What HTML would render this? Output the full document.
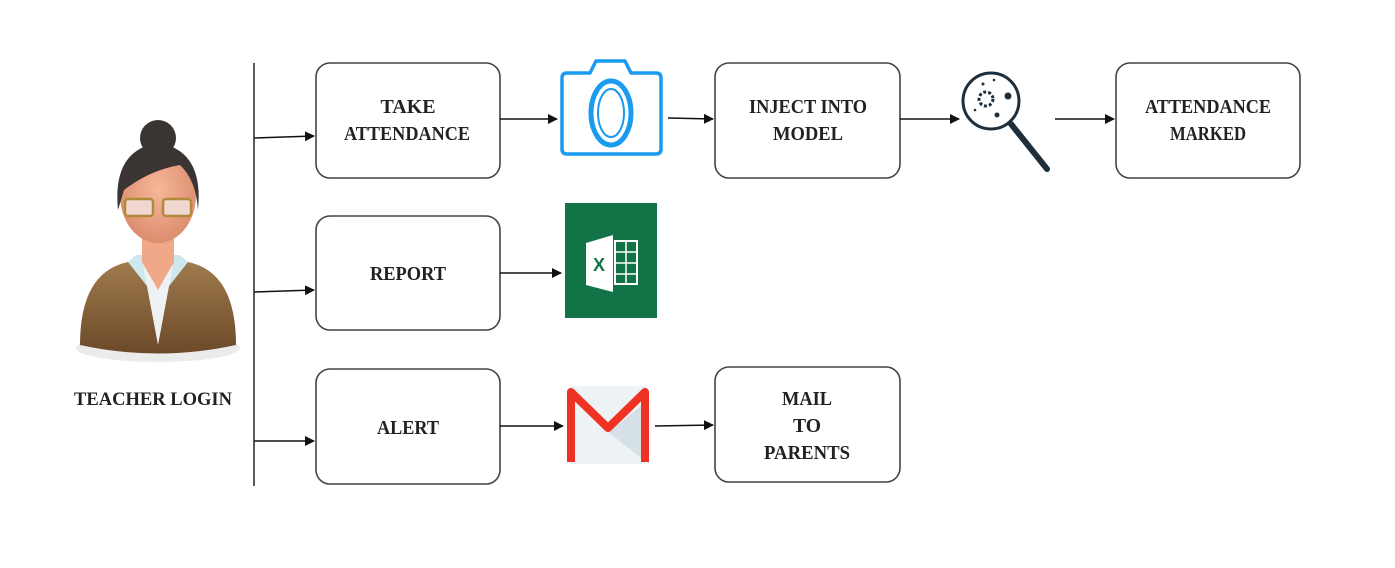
<!DOCTYPE html>
<html><head><style>html,body{margin:0;padding:0;background:#fff}</style></head><body>
<svg width="1395" height="563" viewBox="0 0 1395 563" xmlns="http://www.w3.org/2000/svg" font-family="Liberation Serif, serif" font-weight="bold" font-size="20" fill="#222">
<defs>
<marker id="a" markerWidth="10" markerHeight="10" refX="9" refY="5" orient="auto" markerUnits="userSpaceOnUse"><path d="M0,0 L10,5 L0,10 Z" fill="#111"/></marker>
<linearGradient id="jk" x1="0" y1="0" x2="0" y2="1"><stop offset="0" stop-color="#a07a4e"/><stop offset="1" stop-color="#6b4a28"/></linearGradient>
<radialGradient id="fc" cx="0.5" cy="0.45" r="0.6"><stop offset="0" stop-color="#f7b79a"/><stop offset="1" stop-color="#d98a6a"/></radialGradient>
</defs>
<g stroke="#444" stroke-width="1.6" fill="#fff">
<rect x="316" y="63" width="184" height="115" rx="14"/>
<rect x="715" y="63" width="185" height="115" rx="14"/>
<rect x="1116" y="63" width="184" height="115" rx="14"/>
<rect x="316" y="216" width="184" height="114" rx="14"/>
<rect x="316" y="369" width="184" height="115" rx="14"/>
<rect x="715" y="367" width="185" height="115" rx="14"/>
</g>
<g stroke="#111" stroke-width="1.6" fill="none" marker-end="url(#a)">
<line x1="254" y1="138" x2="314" y2="136"/>
<line x1="254" y1="292" x2="314" y2="290"/>
<line x1="254" y1="441" x2="314" y2="441"/>
<line x1="500" y1="119" x2="557" y2="119"/>
<line x1="668" y1="118" x2="713" y2="119"/>
<line x1="900" y1="119" x2="959" y2="119"/>
<line x1="1055" y1="119" x2="1114" y2="119"/>
<line x1="500" y1="273" x2="561" y2="273"/>
<line x1="500" y1="426" x2="563" y2="426"/>
<line x1="655" y1="426" x2="713" y2="425"/>
</g>
<line x1="254" y1="63" x2="254" y2="486" stroke="#333" stroke-width="1.6"/>
<g text-anchor="middle">
<text x="408" y="113" textLength="55" lengthAdjust="spacingAndGlyphs">TAKE</text>
<text x="407" y="140" textLength="126" lengthAdjust="spacingAndGlyphs">ATTENDANCE</text>
<text x="808" y="113" textLength="118" lengthAdjust="spacingAndGlyphs">INJECT INTO</text>
<text x="808" y="140" textLength="70" lengthAdjust="spacingAndGlyphs">MODEL</text>
<text x="1208" y="113" textLength="126" lengthAdjust="spacingAndGlyphs">ATTENDANCE</text>
<text x="1208" y="140" textLength="76" lengthAdjust="spacingAndGlyphs">MARKED</text>
<text x="408" y="280" textLength="76" lengthAdjust="spacingAndGlyphs">REPORT</text>
<text x="408" y="434" textLength="62" lengthAdjust="spacingAndGlyphs">ALERT</text>
<text x="807" y="405" textLength="50" lengthAdjust="spacingAndGlyphs">MAIL</text>
<text x="807" y="432" textLength="28" lengthAdjust="spacingAndGlyphs">TO</text>
<text x="807" y="459" textLength="86" lengthAdjust="spacingAndGlyphs">PARENTS</text>
<text x="153" y="405" textLength="158" lengthAdjust="spacingAndGlyphs" font-size="19">TEACHER LOGIN</text>
</g>
<!-- camera -->
<g fill="none" stroke="#1a9bef" stroke-width="3.5" stroke-linejoin="round">
<path d="M562,78 Q562,73 567,73 L590,73 L596,61 L625,61 L631,73 L656,73 Q661,73 661,78 L661,149 Q661,154 656,154 L567,154 Q562,154 562,149 Z"/>
<ellipse cx="611" cy="113" rx="20" ry="32" stroke-width="5"/>
<ellipse cx="611" cy="113" rx="13" ry="24" stroke-width="2"/>
</g>
<!-- excel -->
<rect x="565" y="203" width="92" height="115" fill="#127346"/>
<path d="M586,243 L613,235 L613,292 L586,285 Z" fill="#fff"/>
<rect x="615" y="241" width="22" height="43" fill="none" stroke="#fff" stroke-width="2"/>
<path d="M615,252 H637 M615,263 H637 M615,274 H637 M626,241 V284" stroke="#fff" stroke-width="1.5"/>
<text x="599" y="271" fill="#127346" font-family="Liberation Sans, sans-serif" font-size="18" text-anchor="middle">X</text>
<!-- gmail -->
<rect x="567" y="386" width="82" height="78" rx="5" fill="#edf2f5"/>
<path d="M608,432 L649,464 L649,400 Z" fill="#d6e1e7"/>
<path d="M571,462 L571,392 L608,428 L645,392 L645,462" fill="none" stroke="#ee3224" stroke-width="8" stroke-linejoin="round"/>
<!-- magnifier -->
<g fill="none" stroke="#1e2f3b">
<circle cx="991" cy="101" r="28" stroke-width="3"/>
<line x1="1011" y1="124" x2="1047" y2="169" stroke-width="6" stroke-linecap="round"/>
<circle cx="986" cy="99" r="7" stroke-width="3" stroke-dasharray="3 2"/>
</g>
<g fill="#1e2f3b"><circle cx="1008" cy="96" r="3.5"/><circle cx="997" cy="115" r="2.5"/><circle cx="983" cy="84" r="1.5"/><circle cx="975" cy="110" r="1.3"/><circle cx="994" cy="80" r="1.3"/></g>
<!-- teacher -->
<ellipse cx="158" cy="348" rx="82" ry="14" fill="#ddd" opacity="0.6"/>
<path d="M80,345 Q80,272 128,262 L188,262 Q236,272 236,345 Q158,362 80,345 Z" fill="url(#jk)"/>
<path d="M128,262 L158,300 L188,262 L180,255 L136,255 Z" fill="#cfe8ee"/>
<path d="M143,265 L158,345 L173,265 Z" fill="#eef2f3"/>
<path d="M142,230 L142,262 L158,290 L174,262 L174,230 Z" fill="#f0a888"/>
<ellipse cx="158" cy="195" rx="38" ry="48" fill="url(#fc)"/>
<path d="M118,210 Q112,150 158,143 Q204,150 198,210 Q196,180 180,165 Q150,170 124,190 Z" fill="#3a3432"/>
<circle cx="158" cy="138" r="18" fill="#3a3432"/>
<g fill="#f0d8d0" stroke="#b08a3a" stroke-width="2.5"><rect x="125" y="199" width="28" height="17" rx="3"/><rect x="163" y="199" width="28" height="17" rx="3"/></g>
</svg>
</body></html>
